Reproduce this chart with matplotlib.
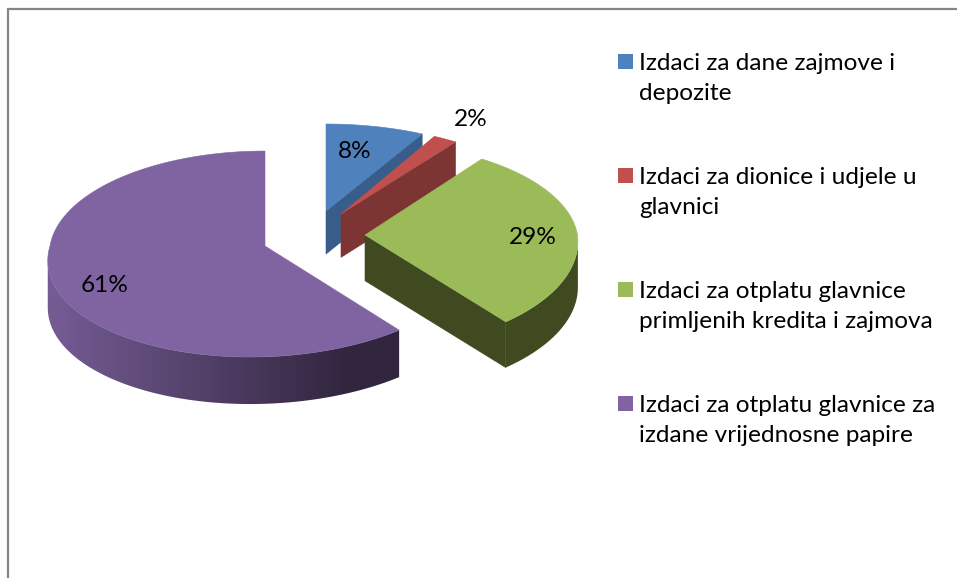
import numpy as np
import matplotlib
matplotlib.use("Agg")
import matplotlib.pyplot as plt
from matplotlib.patches import Polygon, Rectangle
from matplotlib.colors import to_rgb

labels = ["Izdaci za dane zajmove i\ndepozite",
          "Izdaci za dionice i udjele u\nglavnici",
          "Izdaci za otplatu glavnice\nprimljenih kredita i zajmova",
          "Izdaci za otplatu glavnice za\nizdane vrijednosne papire"]
shares = [8, 2, 29, 61]
pct_labels = ["8%", "2%", "29%", "61%"]
colors = ["#4F81BD", "#C0504D", "#9BBB59", "#8064A2"]
side_left = ["#385D8A", "#7D3533", "#404A20", "#745B93"]
side_right = ["#385D8A", "#7D3533", "#404A20", "#32263F"]
apex_x = [326, 341, 365, 265]
apex_y = [211, 214, 235, 246]
x_scale = [1.09, 1.05, 1.015, 1.0]
front_stretch = [1.0, 1.0, 1.06, 1.0]
label_x = [355, 471, 533, 105]
label_y = [152, 120, 238, 286]
legend_y = [61.5, 175.5, 289.5, 403.5]

RX, RY, KX, KY, DEPTH, C = 215, 103, 0.08, 0.078, 47, 0.0024

plt.rcParams["font.family"] = ["Lato", "DejaVu Sans"]
fig = plt.figure(figsize=(9.57, 5.78), dpi=100)
ax = fig.add_axes([0, 0, 1, 1])
ax.axis("off")

# chart frame
ax.plot([8, 8], [578, 9], color="#868686", lw=1.6, solid_capstyle="butt")
ax.plot([7, 957], [9, 9], color="#868686", lw=1.6, solid_capstyle="butt")


def rim(theta, i, s):
    c = np.cos(theta)
    dy = s * RY * c * (1 - KY * c)
    dy = np.where(c < 0, dy * front_stretch[i], dy)
    dx = s * x_scale[i] * RX * np.sin(theta) * (1 - KX * c)
    # perspective lean of the front half, stronger away from the chart centre
    dx = dx + np.where(c < 0, -dy, 0) * 0.001 * (apex_x[i] - 400)
    return apex_x[i] + dx, apex_y[i] - dy


edges = np.concatenate([[0], np.cumsum(shares)]) / sum(shares) * 2 * np.pi

for i in range(len(shares)):
    a0, a1 = edges[i], edges[i + 1]
    ax0, ay0 = apex_x[i], apex_y[i]
    s = 1 + C * (ay0 - 246)
    d = DEPTH * s
    t = np.linspace(a0, a1, 240)
    x, y = rim(t, i, s)
    # radial face on the clockwise end
    if a1 < np.pi:
        ex, ey = rim(a1, i, s)
        ax.add_patch(Polygon([(ax0, ay0), (ex, ey), (ex, ey + d), (ax0, ay0 + d)],
                             fc=side_left[i], ec=side_left[i], lw=0.4, zorder=i * 3 + 1))
    # outer rim: the part facing the viewer, a gradient clipped to the band
    if a1 > np.pi / 2:
        i0 = int(np.argmax(x))
        i1 = i0 + int(np.argmin(x[i0:]))
        bx, by = x[i0:i1 + 1], y[i0:i1 + 1]
        band = np.column_stack([np.r_[bx, bx[::-1]], np.r_[by, by[::-1] + d]])
        patch = Polygon(band, fc="none", ec="none", zorder=i * 3 + 1)
        ax.add_patch(patch)
        cl, cr = np.array(to_rgb(side_left[i])), np.array(to_rgb(side_right[i]))
        lo, hi = (bx.min() - 1 - 55) / 290, (bx.max() + 1 - 55) / 290
        g = np.clip(np.linspace(lo, hi, 256), 0, 1)[None, :, None]
        img = cl[None, None, :] + (cr - cl)[None, None, :] * g
        im = ax.imshow(img, extent=(bx.min() - 1, bx.max() + 1, 578, 0), aspect="auto",
                       zorder=i * 3 + 1, interpolation="bilinear")
        im.set_clip_path(patch)
    # top face
    ax.add_patch(Polygon(np.column_stack([np.r_[ax0, x], np.r_[ay0, y]]),
                         fc=colors[i], ec=colors[i], lw=0.4, zorder=i * 3 + 2))

ax.set_xlim(0, 957)
ax.set_ylim(578, 0)

for i, p in enumerate(pct_labels):
    ax.text(label_x[i], label_y[i], p, fontsize=17.6, color="black",
            ha="center", va="center", zorder=30)

for i, lab in enumerate(labels):
    ax.add_patch(Rectangle((618, legend_y[i] - 7.5), 15, 15, fc=colors[i], ec="none"))
    ax.text(639, legend_y[i] - 8.5, lab, fontsize=17.6, color="black", ha="left", va="top",
            linespacing=1.55)

fig.savefig("out.png", dpi=100, facecolor="white")
